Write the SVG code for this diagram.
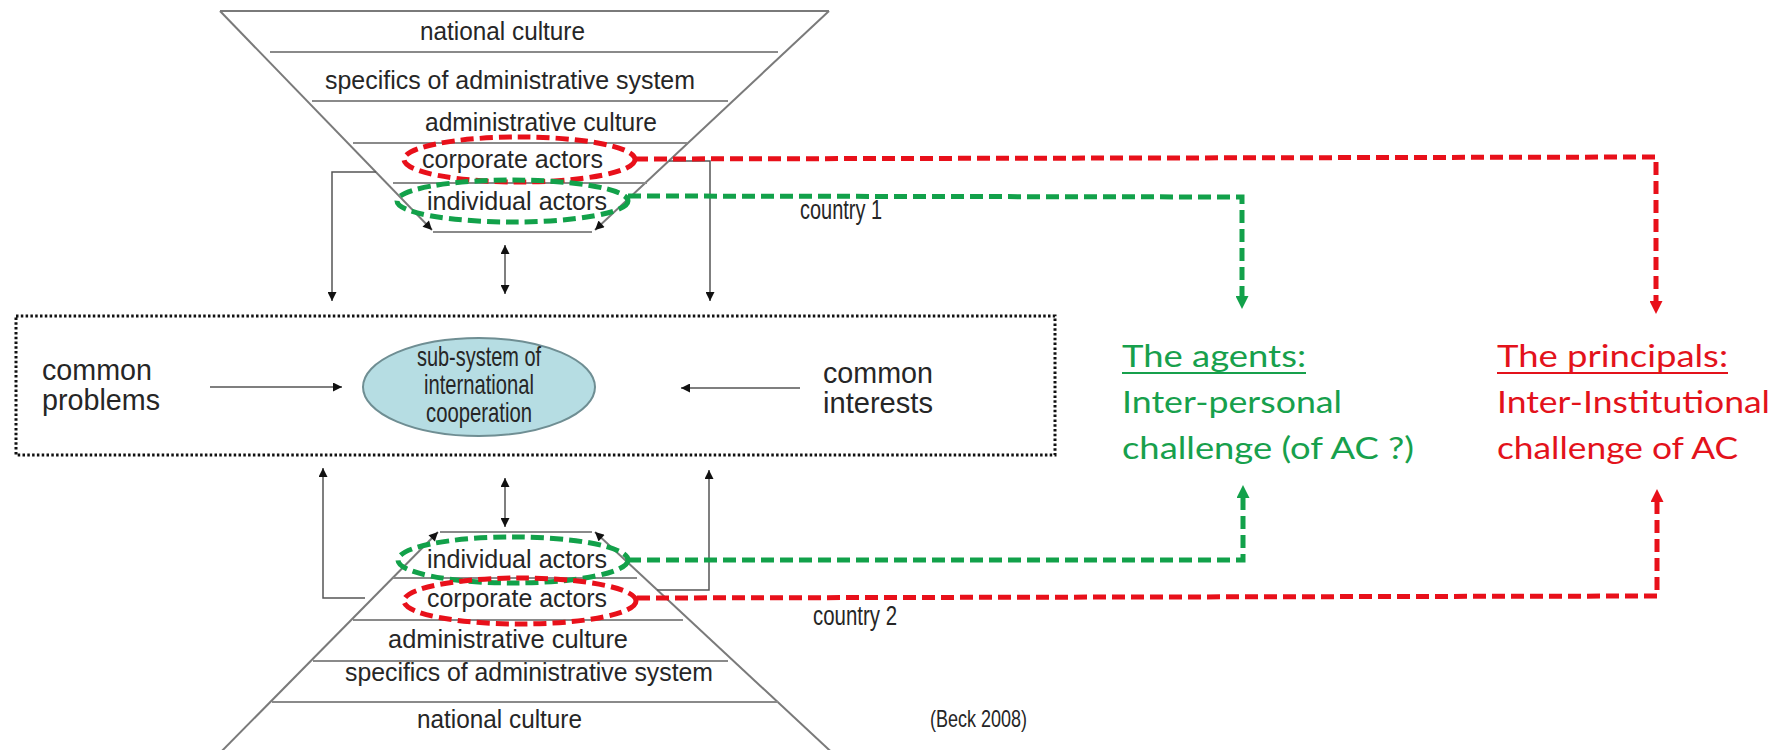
<svg xmlns="http://www.w3.org/2000/svg" width="1779" height="750" viewBox="0 0 1779 750">
<style>
.edge{stroke:#7a7a7a;stroke-width:2;fill:none}
.layer{stroke:#8a8a8a;stroke-width:2;fill:none}
.t{font-family:"Liberation Sans",Arial,sans-serif;font-size:26px;fill:#262626}
.tc{font-family:"Liberation Sans",Arial,sans-serif;font-size:27px;fill:#262626}
.tb{font-family:"Liberation Sans",Arial,sans-serif;font-size:30px;fill:#262626}
.te{font-family:"Liberation Sans",Arial,sans-serif;font-size:28px;fill:#262626}
.conn{stroke:#555;stroke-width:1.5;fill:none}
.g{stroke:#12a14a;stroke-width:5;fill:none;stroke-dasharray:13 6}
.r{stroke:#e8101a;stroke-width:5;fill:none;stroke-dasharray:13 6}
.lg{font-family:Lato,"Open Sans",sans-serif;font-size:30px;fill:#17a04c}
.lr{font-family:Lato,"Open Sans",sans-serif;font-size:30px;fill:#e3121b}
</style>
<defs>
<marker id="ah" viewBox="0 0 10 10" refX="10" refY="5" markerWidth="10" markerHeight="9" markerUnits="userSpaceOnUse" orient="auto-start-reverse"><path d="M0,0 L10,5 L0,10 z" fill="#111"/></marker>
<marker id="ag" viewBox="0 0 10 10" refX="0" refY="5" markerWidth="17" markerHeight="13" markerUnits="userSpaceOnUse" orient="auto"><path d="M0,0 L10,5 L0,10 z" fill="#12a14a"/></marker>
<marker id="ar" viewBox="0 0 10 10" refX="0" refY="5" markerWidth="17" markerHeight="13" markerUnits="userSpaceOnUse" orient="auto"><path d="M0,0 L10,5 L0,10 z" fill="#e8101a"/></marker>
</defs>

<g id="funnel-country1">
<line class="edge" x1="220" y1="11" x2="829" y2="11"/>
<line class="edge" x1="220" y1="11" x2="432" y2="230" marker-end="url(#ah)"/>
<line class="edge" x1="829" y1="11" x2="595" y2="230" marker-end="url(#ah)"/>
<line class="layer" x1="270" y1="52" x2="778" y2="52"/>
<line class="layer" x1="312" y1="101" x2="728" y2="101"/>
<line class="layer" x1="353" y1="143" x2="687" y2="143"/>
<line class="layer" x1="393" y1="183" x2="647" y2="183"/>
<line class="layer" x1="433" y1="232" x2="592" y2="232"/>
<text class="t" x="420" y="40" textLength="165" lengthAdjust="spacingAndGlyphs">national culture</text>
<text class="t" x="325" y="89" textLength="370" lengthAdjust="spacingAndGlyphs">specifics of administrative system</text>
<text class="t" x="425" y="131" textLength="232" lengthAdjust="spacingAndGlyphs">administrative culture</text>
<text class="t" x="422" y="168" textLength="181" lengthAdjust="spacingAndGlyphs">corporate actors</text>
<text class="t" x="427" y="210" textLength="180" lengthAdjust="spacingAndGlyphs">individual actors</text>
</g>

<g id="funnel-country2">
<line class="edge" x1="438" y1="532" x2="213" y2="760" marker-start="url(#ah)"/>
<line class="edge" x1="595" y1="532" x2="840" y2="760" marker-start="url(#ah)"/>
<line class="layer" x1="440" y1="532" x2="592" y2="532"/>
<line class="layer" x1="393" y1="578" x2="637" y2="578"/>
<line class="layer" x1="353" y1="620" x2="683" y2="620"/>
<line class="layer" x1="313" y1="661" x2="728" y2="661"/>
<line class="layer" x1="272" y1="702" x2="778" y2="702"/>
<text class="t" x="427" y="568" textLength="180" lengthAdjust="spacingAndGlyphs">individual actors</text>
<text class="t" x="427" y="607" textLength="180" lengthAdjust="spacingAndGlyphs">corporate actors</text>
<text class="t" x="388" y="648" textLength="240" lengthAdjust="spacingAndGlyphs">administrative culture</text>
<text class="t" x="345" y="681" textLength="368" lengthAdjust="spacingAndGlyphs">specifics of administrative system</text>
<text class="t" x="417" y="728" textLength="165" lengthAdjust="spacingAndGlyphs">national culture</text>
</g>

<g id="label-country1"><text class="tc" x="800" y="219" textLength="82" lengthAdjust="spacingAndGlyphs">country 1</text></g>
<g id="label-country2"><text class="tc" x="813" y="625" textLength="84" lengthAdjust="spacingAndGlyphs">country 2</text></g>
<g id="label-beck"><text class="t" x="930" y="727" style="font-size:24px" textLength="97" lengthAdjust="spacingAndGlyphs">(Beck 2008)</text></g>

<g id="cooperation-box">
<rect x="16" y="316" width="1039" height="139" fill="none" stroke="#111" stroke-width="3" stroke-dasharray="2.5 2.3"/>
</g>

<g id="common-problems">
<text class="tb" x="42" y="380" textLength="110" lengthAdjust="spacingAndGlyphs">common</text>
<text class="tb" x="42" y="410" textLength="118" lengthAdjust="spacingAndGlyphs">problems</text>
</g>

<g id="common-interests">
<text class="tb" x="823" y="383" textLength="110" lengthAdjust="spacingAndGlyphs">common</text>
<text class="tb" x="823" y="413" textLength="110" lengthAdjust="spacingAndGlyphs">interests</text>
</g>

<g id="subsystem">
<ellipse cx="479" cy="387" rx="116" ry="49" fill="#b6dde3" stroke="#6f8e93" stroke-width="2"/>
<text class="te" x="479" y="366" text-anchor="middle" textLength="124" lengthAdjust="spacingAndGlyphs">sub-system of</text>
<text class="te" x="479" y="394" text-anchor="middle" textLength="110" lengthAdjust="spacingAndGlyphs">international</text>
<text class="te" x="479" y="422" text-anchor="middle" textLength="106" lengthAdjust="spacingAndGlyphs">cooperation</text>
</g>

<g id="highlight-ellipses">
<ellipse class="r" cx="519.5" cy="159.5" rx="115.5" ry="22.5"/>
<ellipse class="g" cx="512.5" cy="201" rx="115.5" ry="21"/>
<ellipse class="g" cx="513" cy="560" rx="115" ry="23"/>
<ellipse class="r" cx="520" cy="601" rx="116" ry="23"/>
</g>

<g id="agents">
<text class="lg" x="1122" y="367" textLength="184" lengthAdjust="spacingAndGlyphs">The agents:</text>
<line x1="1122" y1="373" x2="1306" y2="373" stroke="#17a04c" stroke-width="2"/>
<text class="lg" x="1122" y="413" textLength="220" lengthAdjust="spacingAndGlyphs">Inter-personal</text>
<text class="lg" x="1122" y="459" textLength="292" lengthAdjust="spacingAndGlyphs">challenge (of AC ?)</text>
</g>

<g id="principals">
<text class="lr" x="1497" y="367" textLength="231" lengthAdjust="spacingAndGlyphs">The principals:</text>
<line x1="1497" y1="373" x2="1728" y2="373" stroke="#e3121b" stroke-width="2"/>
<text class="lr" x="1497" y="413" textLength="273" lengthAdjust="spacingAndGlyphs">Inter-Institutional</text>
<text class="lr" x="1497" y="459" textLength="241" lengthAdjust="spacingAndGlyphs">challenge of AC</text>
</g>

<g id="connectors">
<path class="conn" d="M376,172 H332 V301" marker-end="url(#ah)"/>
<path class="conn" d="M669,161 H710 V301" marker-end="url(#ah)"/>
<line class="conn" x1="505" y1="245" x2="505" y2="294" marker-start="url(#ah)" marker-end="url(#ah)"/>
<path class="conn" d="M365,598 H323 V468" marker-end="url(#ah)"/>
<path class="conn" d="M657,590 H709 V470" marker-end="url(#ah)"/>
<line class="conn" x1="505" y1="478" x2="505" y2="527" marker-start="url(#ah)" marker-end="url(#ah)"/>
<line class="conn" x1="210" y1="387" x2="342" y2="387" stroke-width="2" marker-end="url(#ah)"/>
<line class="conn" x1="800" y1="388" x2="681" y2="388" stroke-width="2" marker-end="url(#ah)"/>
<path class="r" d="M635,159 L1656,157 V301" marker-end="url(#ar)"/>
<path class="g" d="M628,196 L1242,197 V296" marker-end="url(#ag)"/>
<path class="g" d="M628,560 L1243,560 V498" marker-end="url(#ag)"/>
<path class="r" d="M637,598 L1657,596 V502" marker-end="url(#ar)"/>
</g>
</svg>
